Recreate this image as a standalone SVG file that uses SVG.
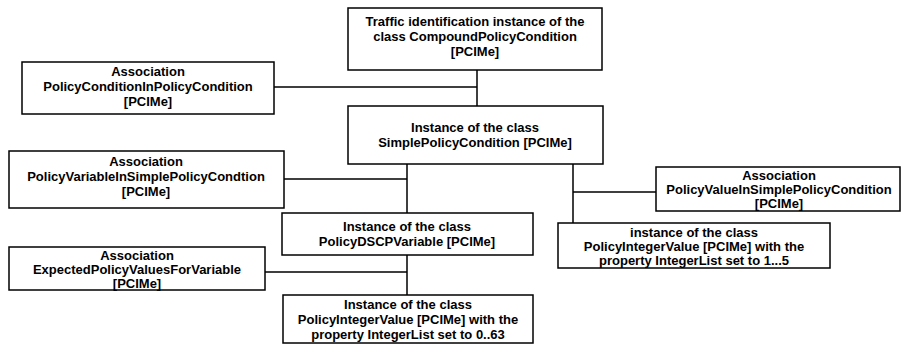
<svg xmlns="http://www.w3.org/2000/svg" width="903" height="353" viewBox="0 0 903 353">
<style>
.box{fill:#fff;stroke:#000;stroke-width:1.5}
.t{font-family:"Liberation Sans",Arial,sans-serif;font-size:13px;font-weight:bold;fill:#000;text-anchor:middle}
.c{fill:none;stroke:#000;stroke-width:1.5}
</style>
<rect width="903" height="353" fill="#fff"/>
<g id="connectors">
<path class="c" d="M477 70V106M274 87H477"/>
<path class="c" d="M407 164V213M284 179H407"/>
<path class="c" d="M573 164V223M573 192H656"/>
<path class="c" d="M407 255V295M265 272H407"/>
</g>
<g id="n1"><rect class="box" x="348" y="8" width="254" height="62"/>
<text class="t" x="475" y="26">Traffic identification instance of the</text>
<text class="t" x="475" y="41">class CompoundPolicyCondition</text>
<text class="t" x="475" y="56">[PCIMe]</text></g>
<g id="n2"><rect class="box" x="22" y="62" width="252" height="52"/>
<text class="t" x="148" y="76">Association</text>
<text class="t" x="148" y="91">PolicyConditionInPolicyCondition</text>
<text class="t" x="148" y="106">[PCIMe]</text></g>
<g id="n3"><rect class="box" x="348" y="106" width="255" height="58"/>
<text class="t" x="475" y="132">Instance of the class</text>
<text class="t" x="475" y="147">SimplePolicyCondition [PCIMe]</text></g>
<g id="n4"><rect class="box" x="9" y="151" width="275" height="57"/>
<text class="t" x="146" y="166">Association</text>
<text class="t" x="146" y="181">PolicyVariableInSimplePolicyCondtion</text>
<text class="t" x="146" y="196">[PCIMe]</text></g>
<g id="n5"><rect class="box" x="282" y="213" width="251" height="42"/>
<text class="t" x="407" y="231">Instance of the class</text>
<text class="t" x="407" y="246">PolicyDSCPVariable [PCIMe]</text></g>
<g id="n6"><rect class="box" x="656" y="167" width="244" height="44"/>
<text class="t" x="779" y="180">Association</text>
<text class="t" x="779" y="194">PolicyValueInSimplePolicyCondition</text>
<text class="t" x="779" y="208">[PCIMe]</text></g>
<g id="n7"><rect class="box" x="558" y="223" width="272" height="45"/>
<text class="t" x="694" y="237">instance of the class</text>
<text class="t" x="694" y="251">PolicyIntegerValue [PCIMe] with the</text>
<text class="t" x="694" y="265">property IntegerList set to 1...5</text></g>
<g id="n8"><rect class="box" x="9" y="247" width="256" height="43"/>
<text class="t" x="137" y="260">Association</text>
<text class="t" x="137" y="274">ExpectedPolicyValuesForVariable</text>
<text class="t" x="137" y="288">[PCIMe]</text></g>
<g id="n9"><rect class="box" x="283" y="295" width="250" height="48"/>
<text class="t" x="408" y="309">Instance of the class</text>
<text class="t" x="408" y="324">PolicyIntegerValue [PCIMe] with the</text>
<text class="t" x="408" y="339">property IntegerList set to 0..63</text></g>
</svg>
